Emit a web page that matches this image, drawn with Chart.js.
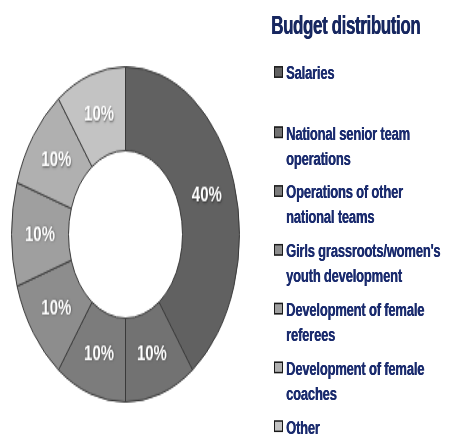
<!DOCTYPE html>
<html lang="en">
<head>
<meta charset="UTF-8">
<title>Budget distribution</title>
<script src="https://cdn.jsdelivr.net/npm/chart.js"></script>
<style>
  html, body { margin: 0; padding: 0; background: #fff; }
  body { width: 454px; height: 435px; overflow: hidden; position: relative; }
  /* the whole picture is stretched vertically, so lay it out in flat space */
  #page {
    position: absolute; left: 0; top: 0; width: 454px; height: 296px;
    transform: scaleY(1.4696); transform-origin: 0 0;
    font-family: "Liberation Sans", Arial, sans-serif; font-weight: bold; color: #1a2b6e;
  }
  #donut { position: absolute; left: 11px; top: 45px; }
  #title { position: absolute; left: 271px; top: 8px; font-size: 17px; line-height: 20px; letter-spacing: -0.4px; white-space: nowrap; color: #172760; text-shadow: 0.4px 0 0 #172760; }
  .item { position: absolute; left: 274px; font-size: 13px; line-height: 17px; white-space: nowrap; }
  .item .box { position: absolute; left: 0; top: 4px; width: 9px; height: 8px; border: 1px solid #1a1a1a; box-sizing: border-box; }
  .item .txt { position: absolute; left: 12px; top: 0; letter-spacing: -0.2px; text-shadow: 0.3px 0 0 #1a2b6e; }
</style>
</head>
<body>
<div id="page">
  <canvas id="donut" width="229" height="229"></canvas>
  <div id="title">Budget distribution</div>
  <div id="legend"></div>
</div>
<script>
  const categories = [
    ['Salaries', ''],
    ['National senior team', 'operations'],
    ['Operations of other', 'national teams'],
    ["Girls grassroots/women's", 'youth development'],
    ['Development of female', 'referees'],
    ['Development of female', 'coaches'],
    ['Other']
  ];
  const shares = [40, 10, 10, 10, 10, 10, 10];
  const sliceColors = ['#616161', '#727272', '#7c7c7c', '#8d8d8d', '#9f9f9f', '#b0b0b0', '#c3c3c3'];

  // legend in html, same colours as the slices
  const legend = document.getElementById('legend');
  categories.forEach((lines, i) => {
    const item = document.createElement('div');
    item.className = 'item';
    item.style.top = (41.4 + 40.1 * i) + 'px';
    const box = document.createElement('span');
    box.className = 'box';
    box.style.background = sliceColors[i];
    const txt = document.createElement('span');
    txt.className = 'txt';
    txt.innerHTML = lines.filter(l => l !== '').join('<br>');
    item.appendChild(box);
    item.appendChild(txt);
    legend.appendChild(item);
  });

  // percentage text in the middle of each slice
  const sliceLabels = {
    id: 'sliceLabels',
    afterDatasetsDraw(chart) {
      const ctx = chart.ctx;
      const meta = chart.getDatasetMeta(0);
      ctx.save();
      ctx.font = 'bold 15px "Liberation Sans", Arial, sans-serif';
      ctx.textAlign = 'center';
      ctx.textBaseline = 'middle';
      ctx.shadowColor = 'rgba(0,0,0,0.5)';
      ctx.shadowBlur = 1.5;
      ctx.shadowOffsetX = 0.5;
      ctx.shadowOffsetY = 0.5;
      ctx.fillStyle = '#ffffff';
      meta.data.forEach((arc, i) => {
        const p = arc.getCenterPoint();
        ctx.fillText(shares[i] + '%', p.x, p.y);
      });
      ctx.restore();
    }
  };

  new Chart(document.getElementById('donut'), {
    type: 'doughnut',
    data: {
      labels: categories.map(l => l.join(' ')),
      datasets: [{
        data: shares,
        backgroundColor: sliceColors,
        borderColor: '#3a3a3a',
        borderWidth: 1
      }]
    },
    options: {
      responsive: false,
      animation: false,
      cutout: '50%',
      layout: { padding: 0 },
      plugins: {
        legend: { display: false },
        tooltip: { enabled: false }
      }
    },
    plugins: [sliceLabels]
  });
</script>
</body>
</html>
